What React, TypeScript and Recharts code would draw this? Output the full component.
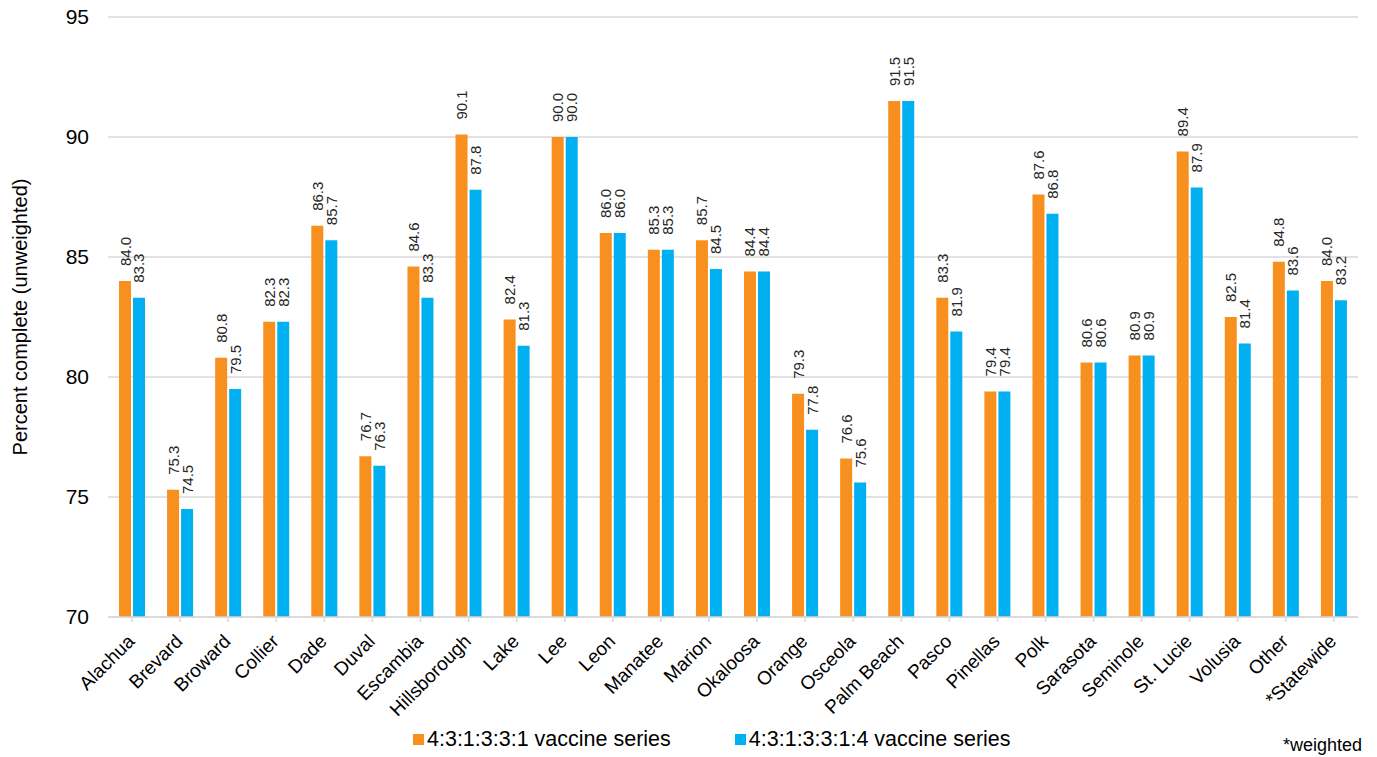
import React from "react";
import { BarChart, Bar, XAxis, YAxis, CartesianGrid, LabelList, Label } from "recharts";

const categories = ["Alachua","Brevard","Broward","Collier","Dade","Duval","Escambia","Hillsborough","Lake","Lee","Leon","Manatee","Marion","Okaloosa","Orange","Osceola","Palm Beach","Pasco","Pinellas","Polk","Sarasota","Seminole","St. Lucie","Volusia","Other","*Statewide"];
const series1 = [84.0,75.3,80.8,82.3,86.3,76.7,84.6,90.1,82.4,90.0,86.0,85.3,85.7,84.4,79.3,76.6,91.5,83.3,79.4,87.6,80.6,80.9,89.4,82.5,84.8,84.0];
const series2 = [83.3,74.5,79.5,82.3,85.7,76.3,83.3,87.8,81.3,90.0,86.0,85.3,84.5,84.4,77.8,75.6,91.5,81.9,79.4,86.8,80.6,80.9,87.9,81.4,83.6,83.2];
const yTicks = [70,75,80,85,90,95];
const seriesNames = ["4:3:1:3:3:1 vaccine series","4:3:1:3:3:1:4 vaccine series"];
const colors = ["#F7901E","#00B0F0"];

const data = categories.map((c, i) => ({ name: c, s1: series1[i], s2: series2[i] }));

const FONT = "'Liberation Sans', Arial, sans-serif";

const ValueLabel = (props: any) => {
  const { x, y, width, value } = props;
  const cx = x + width / 2;
  const ty = y - 15;
  return (
    <text x={cx} y={ty} transform={`rotate(-90 ${cx} ${ty})`} textAnchor="start" dominantBaseline="central" fontSize={15} fontFamily={FONT} fill="#262626">
      {Number(value).toFixed(1)}
    </text>
  );
};

const XTick = (props: any) => {
  const { x, y, payload } = props;
  const tx = x - 6;
  const ty = y + 9;
  return (
    <text x={tx} y={ty} transform={`rotate(-45 ${tx} ${ty})`} textAnchor="end" dominantBaseline="hanging" fontSize={19} fontFamily={FONT} fill="#000">
      {payload.value}
    </text>
  );
};

export default function App() {
  return (
    <div style={{ position: "absolute", left: 0, top: 0, width: 1377, height: 757, background: "#fff", fontFamily: FONT }}>
      <BarChart width={1377} height={757} data={data} margin={{ top: 17, right: 19, left: 0, bottom: 40 }} barGap={2} barSize={12}>
        <CartesianGrid vertical={false} stroke="#d9d9d9" strokeWidth={1.5} />
        <XAxis dataKey="name" interval={0} height={100} tick={<XTick />} axisLine={{ stroke: "#d9d9d9", strokeWidth: 1.5 }} tickLine={{ stroke: "#d9d9d9", strokeWidth: 1.5 }} tickSize={5} />
        <YAxis width={108} domain={[70, 95]} ticks={yTicks} axisLine={false} tickLine={false} tickSize={0} tickMargin={19} tick={{ fontSize: 21, fill: "#000", fontFamily: FONT }}>
          <Label content={() => (
            <text x={20} y={317} transform="rotate(-90 20 317)" textAnchor="middle" dominantBaseline="central" fontSize={20} fontFamily={FONT} fill="#000">Percent complete (unweighted)</text>
          )} />
        </YAxis>
        <Bar dataKey="s1" name={seriesNames[0]} fill={colors[0]} isAnimationActive={false}>
          <LabelList dataKey="s1" content={<ValueLabel />} />
        </Bar>
        <Bar dataKey="s2" name={seriesNames[1]} fill={colors[1]} isAnimationActive={false}>
          <LabelList dataKey="s2" content={<ValueLabel />} />
        </Bar>
      </BarChart>
      <div style={{ position: "absolute", top: 727, left: 413, display: "flex", alignItems: "center", fontSize: 21.5, color: "#000", whiteSpace: "nowrap" }}>
        <span style={{ width: 11, height: 11, background: colors[0], display: "inline-block", marginRight: 3 }} />
        <span>{seriesNames[0]}</span>
        <span style={{ width: 11, height: 11, background: colors[1], display: "inline-block", marginRight: 3, marginLeft: 64 }} />
        <span>{seriesNames[1]}</span>
      </div>
      <div style={{ position: "absolute", top: 735, left: 1283, fontSize: 18, color: "#000" }}>*weighted</div>
    </div>
  );
}
